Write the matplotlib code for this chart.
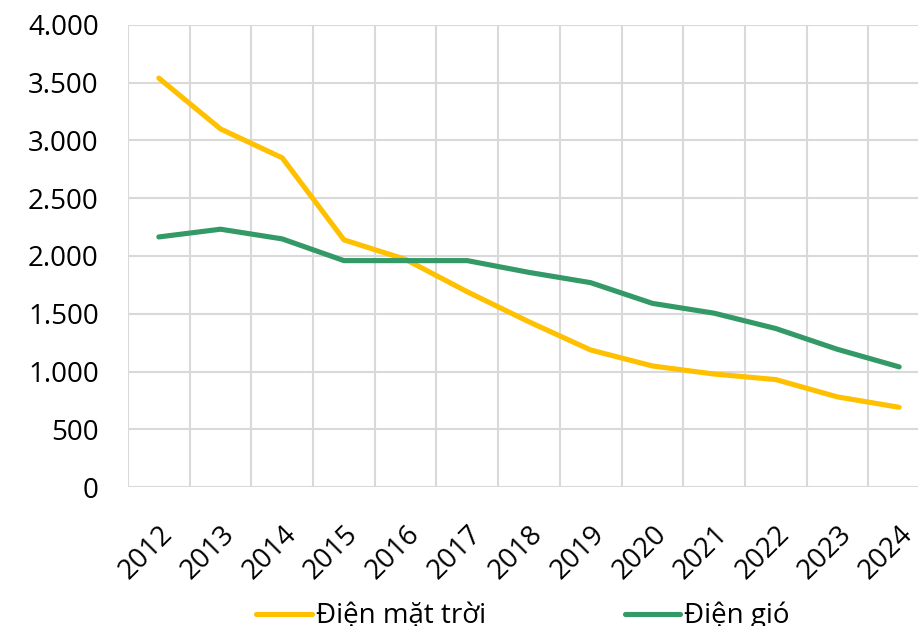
import numpy as np
import matplotlib
matplotlib.use("Agg")
import matplotlib.pyplot as plt
from matplotlib.ticker import FuncFormatter, MultipleLocator

plt.rcParams['font.family'] = ['Open Sans', 'DejaVu Sans']

years = ['2012', '2013', '2014', '2015', '2016', '2017', '2018',
         '2019', '2020', '2021', '2022', '2023', '2024']
solar = [3540, 3100, 2850, 2140, 1970, 1690, 1430, 1186, 1048, 978, 930, 780, 690]
wind = [2165, 2232, 2148, 1960, 1960, 1960, 1858, 1769, 1590, 1505, 1372, 1192, 1040]
series_names = ['Điện mặt trời', 'Điện gió']

fig = plt.figure(figsize=(9.18, 6.26), dpi=100)
ax = fig.add_axes([128/918, 1-487/626, 802/918, 462/626])

x = np.arange(len(years))
ax.plot(x, solar, color='#FFC000', lw=3.7, solid_capstyle='round', label=series_names[0])
ax.plot(x, wind, color='#339966', lw=3.7, solid_capstyle='round', label=series_names[1])

ax.set_xlim(-0.5, len(years) - 0.5)
ax.set_ylim(0, 4000)
ax.yaxis.set_major_locator(MultipleLocator(500))
ax.yaxis.set_major_formatter(FuncFormatter(lambda v, p: f"{int(v):,}".replace(',', '.')))
ax.set_xticks(x)
ax.set_xticklabels(years, rotation=45, ha='right', rotation_mode='anchor')
ax.set_xticks(np.arange(-0.5, len(years), 1), minor=True)

for s in ax.spines.values():
    s.set_visible(False)
ax.grid(True, which='major', axis='y', color='#D9D9D9', lw=1.5)
ax.grid(True, which='minor', axis='x', color='#D9D9D9', lw=1.5)
ax.set_axisbelow(True)
ax.tick_params(axis='both', which='both', length=0, labelsize=20, colors='black')
ax.tick_params(axis='y', pad=21)
ax.tick_params(axis='x', pad=24)

fig.legend(loc='center', bbox_to_anchor=(523/918, 1-616/626), ncol=2, frameon=False,
           fontsize=20, handlelength=2.0, handletextpad=0.15, columnspacing=5.0,
           borderpad=0)

fig.savefig('out.png', dpi=100)
